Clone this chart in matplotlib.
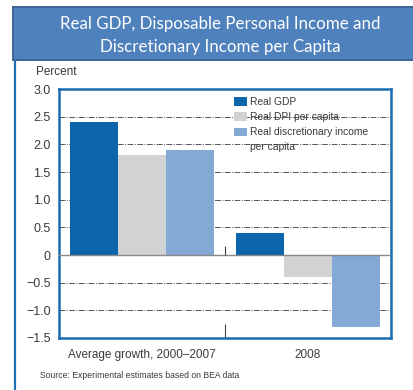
import matplotlib
matplotlib.use("Agg")
import matplotlib.pyplot as plt
from matplotlib.patches import Rectangle
from matplotlib.lines import Line2D
import numpy as np

plt.rcParams['font.family'] = ['Liberation Sans', 'DejaVu Sans']

categories = ["Average growth, 2000\u20132007", "2008"]
series_names = ["Real GDP", "Real DPI per capita",
                "Real discretionary income", "per capita"]
real_gdp = [2.4, 0.4]
real_dpi = [1.8, -0.4]
real_disc = [1.9, -1.3]
y_ticks = [-1.5, -1.0, -0.5, 0, 0.5, 1.0, 1.5, 2.0, 2.5, 3.0]
y_tick_labels = ["\u22121.5", "\u22121.0", "\u22120.5", "0", "0.5", "1.0",
                 "1.5", "2.0", "2.5", "3.0"]

colors = ["#0B65AA", "#D1D2D4", "#85A9D5"]
spine_color = "#1A6DB2"
text_color = "#3A3A3A"

W, H = 414, 390
fig = plt.figure(figsize=(W / 100, H / 100), dpi=100)
fig.patch.set_facecolor("white")

# Title banner
fig.patches.append(Rectangle((13 / W, 1 - 60 / H), (W - 13 + 5) / W, 53 / H,
                             transform=fig.transFigure, facecolor="#4F81BD",
                             edgecolor="#3D6494", linewidth=1.4, zorder=1))
fig.text(220 / W, 1 - 24 / H, "Real GDP, Disposable Personal Income and",
         ha="center", va="center", color="white", fontsize=12.2,
         family=["Lato", "DejaVu Sans"])
fig.text(220 / W, 1 - 47 / H, "Discretionary Income per Capita",
         ha="center", va="center", color="white", fontsize=12.2,
         family=["Lato", "DejaVu Sans"])

# Left panel rule
fig.add_artist(Line2D([15 / W, 15 / W], [0, 1 - 61 / H],
                      transform=fig.transFigure, color="#1F6FB8",
                      linewidth=1.6))

ax = fig.add_axes([59 / W, 52 / H, 332 / W, 249 / H])

x = np.arange(len(categories))
width = 0.29
bars = []
for i, (vals, c) in enumerate(zip([real_gdp, real_dpi, real_disc], colors)):
    bars.append(ax.bar(x + (i - 1) * width, vals, width=width, color=c,
                       zorder=3, linewidth=0))

ax.set_xlim(-0.5, 1.5)
ax.set_ylim(-1.5, 3.0)

for yv in y_ticks:
    if yv in (-1.5, 3.0):
        continue
    if yv == 0:
        ax.axhline(0, color="#8A8A8A", linewidth=1.0, zorder=4)
    else:
        ax.axhline(yv, color="#555555", linewidth=0.7,
                   linestyle=(0, (6, 1.5, 1, 1.5)), zorder=1)

# Divider ticks between the two groups
ax.vlines(0.5, 0, 0.17, color="#444444", linewidth=0.8, zorder=4)

ax.set_yticks(y_ticks)
ax.set_yticklabels(y_tick_labels, color=text_color, fontsize=9)
ax.tick_params(axis="y", length=0, pad=6)
ax.set_xticks([0.5])
ax.set_xticklabels([""])
ax.tick_params(axis="x", direction="in", length=10, width=0.8,
               color="#444444")
for xi, lab in zip(x, categories):
    ax.text(xi, -0.045, lab, transform=ax.get_xaxis_transform(),
            ha="center", va="top", fontsize=8.5, color=text_color)

for sp in ax.spines.values():
    sp.set_color(spine_color)
    sp.set_linewidth(1.8)

ax.text(-0.07, 1.045, "Percent", transform=ax.transAxes, ha="left",
        va="bottom", fontsize=8.5, color=text_color)

blank = Rectangle((0, 0), 1, 1, facecolor="none", edgecolor="none")
handles = [bars[0], bars[1], bars[2], blank]
leg = ax.legend(handles, series_names, loc="upper left",
                bbox_to_anchor=(0.527, 0.968),
                frameon=False, fontsize=7.4, borderpad=0, borderaxespad=0,
                handlelength=1.3, handleheight=0.85, handletextpad=0.25,
                labelspacing=0.5)
for t in leg.get_texts():
    t.set_color(text_color)

fig.text(40 / W, 1 - 376 / H,
         "Source: Experimental estimates based on BEA data",
         ha="left", va="center", fontsize=6.2, color=text_color)

fig.savefig("out.png", dpi=100)
